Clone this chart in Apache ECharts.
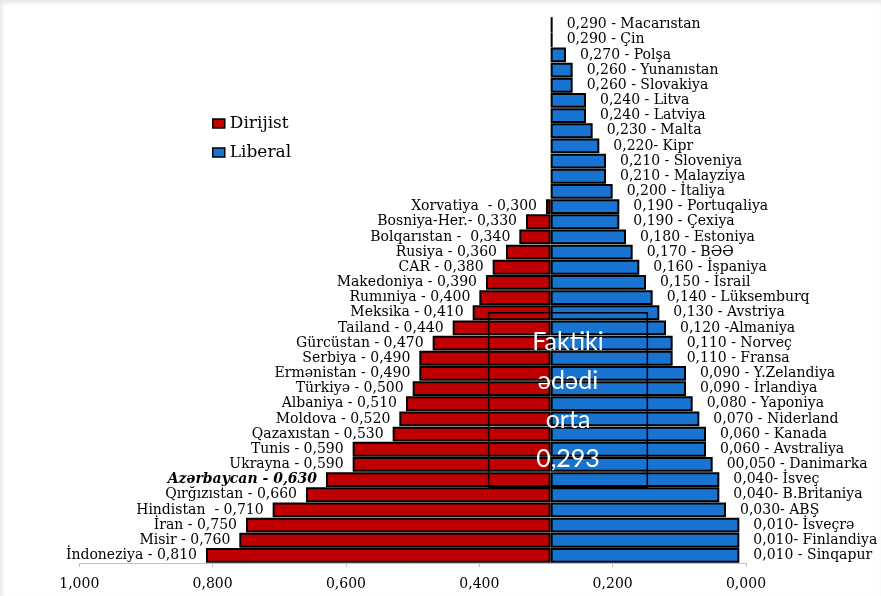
<!DOCTYPE html>
<html>
<head>
<meta charset="utf-8">
<script src="https://cdn.jsdelivr.net/npm/echarts@6/dist/echarts.min.js"></script>
<style>
html,body{margin:0;padding:0;background:#fff;}
#c{width:881px;height:596px;box-shadow: inset 2px 3px 4px rgba(0,0,0,0.10);}
</style>
</head>
<body>
<div id="c"></div>
<script>
// ---- data ----
const AVG = 0.293;
const rowNames = ['Macarıstan','Çin','Polşa','Yunanıstan','Slovakiya','Litva','Latviya','Malta','Kipr','Sloveniya','Malayziya','İtaliya','Portuqaliya','Çexiya','Estoniya','BƏƏ','İspaniya','İsrail','Lüksemburq','Avstriya','Almaniya','Norveç','Fransa','Y.Zelandiya','İrlandiya','Yaponiya','Niderland','Kanada','Avstraliya','Danimarka','İsveç','B.Britaniya','ABŞ','İsveçrə','Finlandiya','Sinqapur'];
const blueValues = [0.290,0.290,0.270,0.260,0.260,0.240,0.240,0.230,0.220,0.210,0.210,0.200,0.190,0.190,0.180,0.170,0.160,0.150,0.140,0.130,0.120,0.110,0.110,0.090,0.090,0.080,0.070,0.060,0.060,0.050,0.040,0.040,0.030,0.010,0.010,0.010];
const blueLabels = ['0,290 - Macarıstan','0,290 - Çin','0,270 - Polşa','0,260 - Yunanıstan','0,260 - Slovakiya','0,240 - Litva','0,240 - Latviya','0,230 - Malta','0,220- Kipr','0,210 - Sloveniya','0,210 - Malayziya','0,200 - İtaliya','0,190 - Portuqaliya','0,190 - Çexiya','0,180 - Estoniya','0,170 - BƏƏ','0,160 - İspaniya','0,150 - İsrail','0,140 - Lüksemburq','0,130 - Avstriya','0,120 -Almaniya','0,110 - Norveç','0,110 - Fransa','0,090 - Y.Zelandiya','0,090 - İrlandiya','0,080 - Yaponiya','0,070 - Niderland','0,060 - Kanada','0,060 - Avstraliya','00,050 - Danimarka','0,040- İsveç','0,040- B.Britaniya','0,030- ABŞ','0,010- İsveçrə','0,010- Finlandiya','0,010 - Sinqapur'];
const redNames = [null,null,null,null,null,null,null,null,null,null,null,null,'Xorvatiya','Bosniya-Her.','Bolqarıstan','Rusiya','CAR','Makedoniya','Rumıniya','Meksika','Tailand','Gürcüstan','Serbiya','Ermənistan','Türkiyə','Albaniya','Moldova','Qazaxıstan','Tunis','Ukrayna','Azərbaycan','Qırğızıstan','Hindistan','İran','Misir','İndoneziya'];
const redValues = [null,null,null,null,null,null,null,null,null,null,null,null,0.300,0.330,0.340,0.360,0.380,0.390,0.400,0.410,0.440,0.470,0.490,0.490,0.500,0.510,0.520,0.530,0.590,0.590,0.630,0.660,0.710,0.750,0.760,0.810];
const redLabels = [null,null,null,null,null,null,null,null,null,null,null,null,'Xorvatiya  - 0,300','Bosniya-Her.- 0,330','Bolqarıstan -  0,340','Rusiya - 0,360','CAR - 0,380','Makedoniya - 0,390','Rumıniya - 0,400','Meksika - 0,410','Tailand - 0,440','Gürcüstan - 0,470','Serbiya - 0,490','Ermənistan - 0,490','Türkiyə - 0,500','Albaniya - 0,510','Moldova - 0,520','Qazaxıstan - 0,530','Tunis - 0,590','Ukrayna - 0,590','Azərbaycan - 0,630','Qırğızıstan - 0,660','Hindistan  - 0,710','İran - 0,750','Misir - 0,760','İndoneziya - 0,810'];
const highlightName = 'Azərbaycan';
const avgTextLines = ['Faktiki','ədədi','orta','0,293'];
// annotation box extent (values / rows)
const boxValueLeft = 0.386, boxValueRight = 0.148, boxRowTop = 19, boxRowBottom = 30;

// ---- styles ----
const RED = '#C00000', BLUE = '#1874D0';
const SERIF = '"DejaVu Serif", "Liberation Serif", serif';
const GAP = '2%';

const chart = echarts.init(document.getElementById('c'));

const redBarData = redValues.map((v, i) => {
  if (v == null) return null;
  const item = { value: +(v - AVG).toFixed(4) };
  if (redNames[i] === highlightName) item.label = { fontWeight: 'bold', fontStyle: 'italic' };
  return item;
});

chart.setOption({
  animation: false,
  grid: { left: 79.3, right: 135, top: 17, bottom: 33, containLabel: false },
  legend: {
    orient: 'vertical', left: 207, top: 110,
    data: ['Dirijist', 'Liberal'],
    icon: 'rect', itemWidth: 12, itemHeight: 9, itemGap: 12,
    itemStyle: { borderColor: '#000', borderWidth: 1.5 },
    textStyle: { fontFamily: SERIF, fontSize: 17, color: '#000' }
  },
  xAxis: {
    type: 'value', inverse: true, min: 0, max: 1, interval: 0.2,
    splitLine: { show: false },
    axisLine: { show: true, lineStyle: { color: '#bfbfbf', width: 1 } },
    axisTick: { show: true, length: 4, lineStyle: { color: '#bfbfbf' } },
    axisLabel: {
      margin: 14, fontFamily: SERIF, fontSize: 14, color: '#000',
      formatter: v => v.toFixed(3).replace('.', ',')
    }
  },
  yAxis: {
    type: 'category', data: rowNames, inverse: true,
    axisLine: { show: false }, axisTick: { show: false }, axisLabel: { show: false },
    splitLine: { show: false }
  },
  series: [
    {
      name: 'libBase', type: 'bar', stack: 'lib', data: blueValues,
      itemStyle: { color: 'rgba(0,0,0,0)' }, silent: true,
      barGap: '-100%', barCategoryGap: GAP
    },
    {
      name: 'Liberal', type: 'bar', stack: 'lib',
      data: blueValues.map(v => +(AVG - v).toFixed(4)),
      itemStyle: { color: BLUE, borderColor: '#000', borderWidth: 2 },
      barGap: '-100%', barCategoryGap: GAP,
      label: {
        show: true, position: 'right', distance: 14,
        fontFamily: SERIF, fontSize: 14, color: '#000',
        formatter: p => blueLabels[p.dataIndex]
      }
    },
    {
      name: 'dirBase', type: 'bar', stack: 'dir',
      data: redValues.map(v => v == null ? null : AVG),
      itemStyle: { color: 'rgba(0,0,0,0)' }, silent: true,
      barGap: '-100%', barCategoryGap: GAP
    },
    {
      name: 'Dirijist', type: 'bar', stack: 'dir', data: redBarData,
      itemStyle: { color: RED, borderColor: '#000', borderWidth: 2 },
      barGap: '-100%', barCategoryGap: GAP,
      label: {
        show: true, position: 'left', distance: 9,
        fontFamily: SERIF, fontSize: 14, color: '#000',
        formatter: p => redLabels[p.dataIndex]
      }
    },
    {
      name: 'avgBox', type: 'custom', z: 10, silent: true, clip: false,
      data: [[AVG, boxRowTop]],
      renderItem: function (params, api) {
        const band = api.size([0, 1])[1];
        const tl = api.coord([boxValueLeft, boxRowTop]);
        const br = api.coord([boxValueRight, boxRowBottom]);
        const x0 = tl[0], x1 = br[0];
        const y0 = tl[1], y1 = br[1] + band / 2;
        const cx = (x0 + x1) / 2, cy = (y0 + y1) / 2;
        const step = 39;
        const children = [{
          type: 'rect',
          shape: { x: x0, y: y0, width: x1 - x0, height: y1 - y0 },
          style: { fill: 'none', stroke: '#000', lineWidth: 1.5 }
        }];
        avgTextLines.forEach((t, i) => {
          children.push({
            type: 'text',
            style: {
              text: t, x: cx, y: cy + (i - (avgTextLines.length - 1) / 2) * step,
              align: 'center', verticalAlign: 'middle',
              fill: '#fff', font: '25px Lato, "Open Sans", sans-serif'
            }
          });
        });
        return { type: 'group', children: children };
      }
    }
  ]
});
</script>
</body>
</html>
